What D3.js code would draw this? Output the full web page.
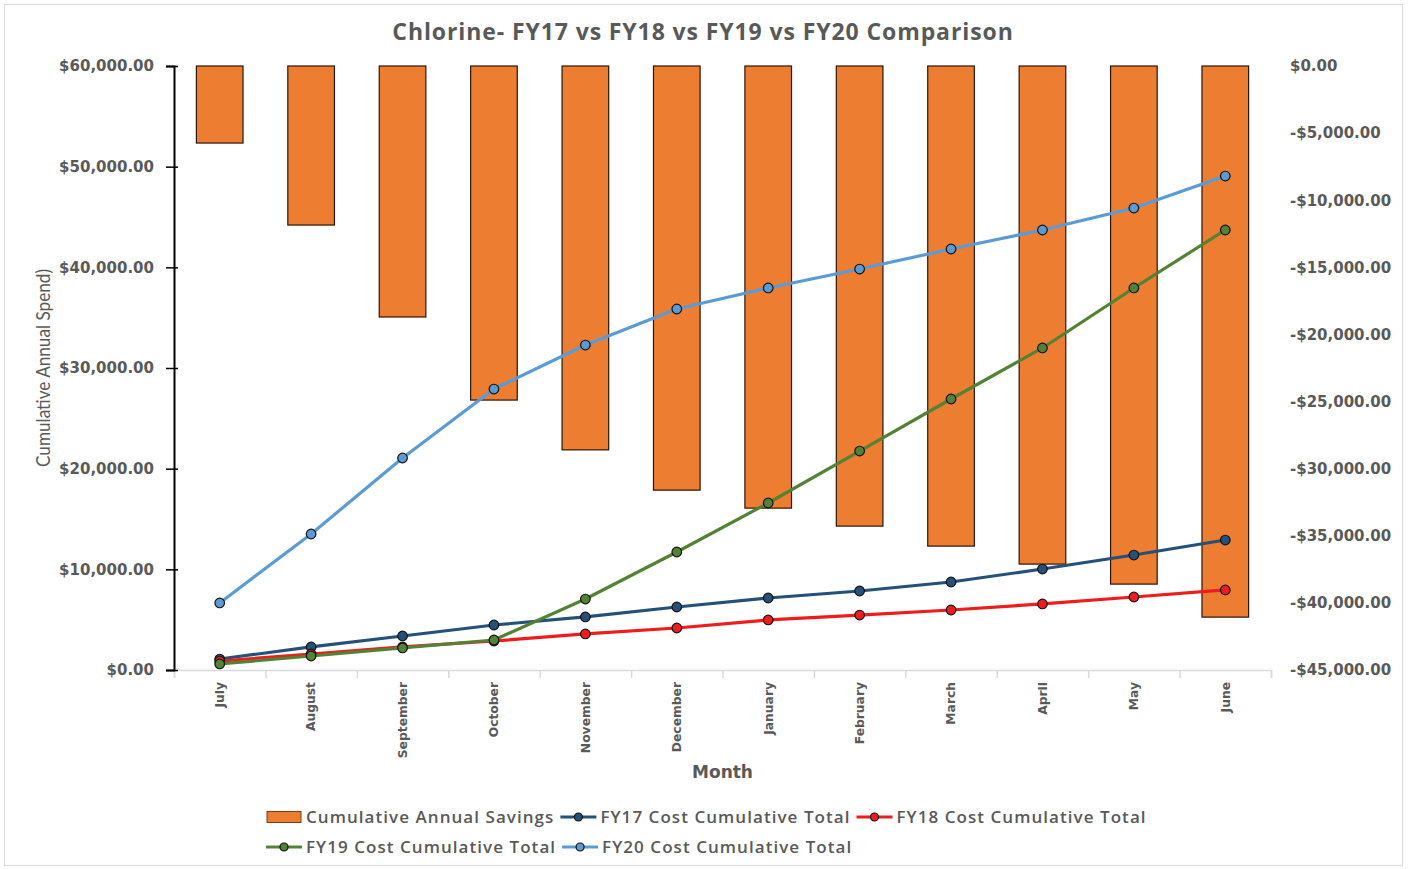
<!DOCTYPE html>
<html>
<head>
<meta charset="utf-8">
<script src="https://cdn.jsdelivr.net/npm/d3@7/dist/d3.min.js"></script>
<style>
  html, body { margin: 0; padding: 0; background: #fff; }
  svg { display: block; }
</style>
</head>
<body>
<svg id="chart" width="1409" height="869"></svg>
<script>
// ---- data ----
const months = ["July","August","September","October","November","December","January","February","March","April","May","June"];
const savings = [-5740, -11850, -18700, -24890, -28600, -31600, -32940, -34280, -35770, -37110, -38600, -41060];
const fy17 = [1090, 2290, 3380, 4470, 5270, 6260, 7150, 7850, 8740, 10030, 11420, 12910];
const fy18 = [890, 1590, 2290, 2880, 3580, 4170, 4970, 5460, 5960, 6560, 7250, 7950];
const fy19 = [600, 1390, 2190, 2980, 7050, 11720, 16590, 21750, 26920, 31990, 37950, 43710];
const fy20 = [6660, 13510, 21060, 27910, 32280, 35860, 37950, 39830, 41820, 43710, 45890, 49070];
const leftTicks = [0, 10000, 20000, 30000, 40000, 50000, 60000];
const rightTicks = [0, -5000, -10000, -15000, -20000, -25000, -30000, -35000, -40000, -45000];

const series = [
  { name: "FY17 Cost Cumulative Total", values: fy17, color: "#24507a" },
  { name: "FY18 Cost Cumulative Total", values: fy18, color: "#ee1c1c" },
  { name: "FY19 Cost Cumulative Total", values: fy19, color: "#548235" },
  { name: "FY20 Cost Cumulative Total", values: fy20, color: "#5b9bd5" }
];

const svg = d3.select("#chart");
const L = 174, R = 1271, T = 66, B = 670;
const textGray = "#595959";

// chart border
svg.append("rect").attr("x", 4.5).attr("y", 4.5).attr("width", 1398).attr("height", 861)
  .attr("fill", "#fff").attr("stroke", "#d9d9d9").attr("stroke-width", 1);

const x = d3.scaleBand().domain(months).range([L, R]).paddingInner(0.49).paddingOuter(0.245);
const xIdx = d3.scaleLinear().domain([0, months.length]).range([L, R]);
const yL = d3.scaleLinear().domain([0, 60000]).range([B, T]);
const yR = d3.scaleLinear().domain([-45000, 0]).range([B, T]);
const cx = m => x(m) + x.bandwidth() / 2;

// title
svg.append("text").attr("x", 703).attr("y", 40).attr("text-anchor", "middle")
  .attr("font-family", "Open Sans").attr("font-weight", 700).attr("font-size", 23)
  .attr("letter-spacing", 0.9)
  .attr("fill", textGray).text("Chlorine- FY17 vs FY18 vs FY19 vs FY20 Comparison");

// bottom axis (gray line with band-boundary ticks)
const gxTicks = svg.append("g").attr("transform", `translate(0,${B})`)
  .call(d3.axisBottom(xIdx).tickValues(d3.range(0, months.length + 1)).tickSize(8).tickFormat(""));
gxTicks.select(".domain").attr("stroke", "#d9d9d9").attr("stroke-width", 1.5);
gxTicks.selectAll(".tick line").attr("stroke", "#d9d9d9").attr("stroke-width", 1.5);

const gx = svg.append("g").attr("transform", `translate(0,${B})`)
  .call(d3.axisBottom(x).tickSize(0).tickPadding(0));
gx.select(".domain").remove();
gx.selectAll(".tick text")
  .attr("transform", "translate(0,12) rotate(-90)")
  .attr("text-anchor", "end").attr("x", 0).attr("y", 0).attr("dy", "0.35em")
  .attr("font-family", "DejaVu Sans").attr("font-weight", "bold").attr("font-size", 12.3)
  .attr("fill", textGray);

// left axis
const gyL = svg.append("g").attr("transform", `translate(${L},0)`)
  .call(d3.axisLeft(yL).tickValues(leftTicks).tickSize(8).tickPadding(12)
    .tickFormat(d => "$" + d3.format(",.2f")(d)));
gyL.select(".domain").attr("stroke", "#000").attr("stroke-width", 2);
gyL.selectAll(".tick line").attr("stroke", "#000").attr("stroke-width", 1.5).attr("x2", -8).attr("x1", 4);
gyL.selectAll(".tick text").attr("font-family", "DejaVu Sans").attr("font-weight", "bold")
  .attr("font-size", 15).attr("fill", textGray);

// right axis
const gyR = svg.append("g").attr("transform", `translate(${R},0)`)
  .call(d3.axisRight(yR).tickValues(rightTicks).tickSize(0).tickPadding(19)
    .tickFormat(d => (d < 0 ? "-$" : "$") + d3.format(",.2f")(Math.abs(d))));
gyR.select(".domain").remove();
gyR.selectAll(".tick text").attr("font-family", "DejaVu Sans").attr("font-weight", "bold")
  .attr("font-size", 15).attr("fill", textGray);

// axis titles
svg.append("text").attr("transform", `translate(43,${(T + B) / 2}) rotate(-90)`)
  .attr("text-anchor", "middle").attr("dy", "0.35em").attr("font-family", "Lato")
  .attr("font-size", 19).attr("fill", textGray)
  .attr("textLength", 198).attr("lengthAdjust", "spacingAndGlyphs")
  .text("Cumulative Annual Spend)");
svg.append("text").attr("x", (L + R) / 2).attr("y", 778).attr("text-anchor", "middle")
  .attr("font-family", "DejaVu Sans").attr("font-weight", "bold").attr("font-size", 17)
  .attr("fill", textGray).text("Month");

// bars
svg.append("g").selectAll("rect").data(months).join("rect")
  .attr("x", m => x(m)).attr("width", x.bandwidth())
  .attr("y", yR(0)).attr("height", (m, i) => yR(savings[i]) - yR(0))
  .attr("fill", "#ed7d31").attr("stroke", "#2b1408").attr("stroke-width", 1.2);

// lines
const line = d3.line().x((v, i) => cx(months[i])).y(v => yL(v));
series.forEach(s => {
  const g = svg.append("g");
  g.append("path").datum(s.values).attr("d", line).attr("fill", "none")
    .attr("stroke", s.color).attr("stroke-width", 3.2).attr("stroke-linejoin", "round");
  g.selectAll("circle").data(s.values).join("circle")
    .attr("cx", (v, i) => cx(months[i])).attr("cy", v => yL(v)).attr("r", 4.8)
    .attr("fill", s.color).attr("stroke", "#111").attr("stroke-width", 1.2);
});

// legend
const legendItems = [
  { type: "bar", name: "Cumulative Annual Savings", color: "#ed7d31" },
  ...series.map(s => ({ type: "line", name: s.name, color: s.color }))
];
const rows = [[0, 1, 2], [3, 4]];
const rowY = [817, 847];
const legend = svg.append("g");
rows.forEach((row, r) => {
  let cursor = 266;
  row.forEach(idx => {
    const it = legendItems[idx];
    const g = legend.append("g");
    if (it.type === "bar") {
      g.append("rect").attr("x", cursor + 1).attr("y", rowY[r] - 5.5).attr("width", 34).attr("height", 11)
        .attr("fill", it.color).attr("stroke", "#7a3d14").attr("stroke-width", 1);
    } else {
      g.append("line").attr("x1", cursor).attr("x2", cursor + 36).attr("y1", rowY[r]).attr("y2", rowY[r])
        .attr("stroke", it.color).attr("stroke-width", 3.2);
      g.append("circle").attr("cx", cursor + 18).attr("cy", rowY[r]).attr("r", 4)
        .attr("fill", it.color).attr("stroke", "#111").attr("stroke-width", 1.2);
    }
    const t = g.append("text").attr("x", cursor + 40).attr("y", rowY[r]).attr("dy", "0.35em")
      .attr("font-family", "Open Sans").attr("font-weight", 600).attr("font-size", 17)
      .attr("letter-spacing", 1.05)
      .attr("fill", textGray).text(it.name);
    cursor += 40 + t.node().getComputedTextLength() + 6;
  });
});
</script>
</body>
</html>
